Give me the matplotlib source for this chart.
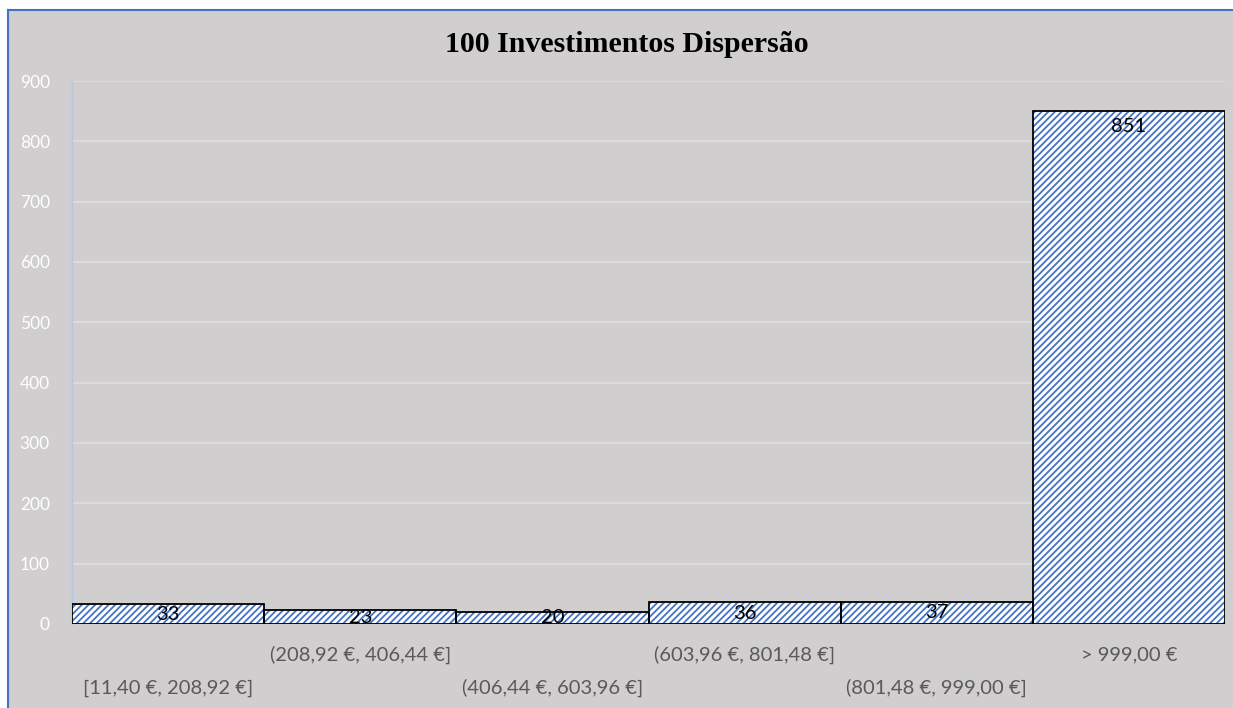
import matplotlib.pyplot as plt
from matplotlib.patches import Rectangle

# histogram bins and counts
bins = ['[11,40 €, 208,92 €]', '(208,92 €, 406,44 €]', '(406,44 €, 603,96 €]',
        '(603,96 €, 801,48 €]', '(801,48 €, 999,00 €]', '> 999,00 €']
counts = [33, 23, 20, 36, 37, 851]
yticks = [0, 100, 200, 300, 400, 500, 600, 700, 800, 900]

bg = '#D0CECE'
plt.rcParams['hatch.linewidth'] = 1.3

fig = plt.figure(figsize=(12.33, 7.08), dpi=100, facecolor='white')

# gray chart area with a blue frame on top and left
fig.patches.append(Rectangle((8 / 1233, 0), 1.2, 1 - 10 / 708, transform=fig.transFigure,
                             facecolor=bg, edgecolor='none', zorder=-2))
fig.lines.append(plt.Line2D([8 / 1233, 8 / 1233], [0, 1 - 10 / 708], transform=fig.transFigure,
                            color='#4472C4', lw=1.5, zorder=-1))
fig.lines.append(plt.Line2D([8 / 1233, 1], [1 - 10 / 708, 1 - 10 / 708], transform=fig.transFigure,
                            color='#4472C4', lw=1.5, zorder=-1))

ax = fig.add_axes([72 / 1233, 1 - 624 / 708, (1225 - 72) / 1233, (624 - 81) / 708])
ax.set_facecolor(bg)

x = list(range(len(counts)))
# blue hatch fill, then black outline on top
ax.bar(x, counts, width=1.0, color='white', edgecolor='#4472C4', linewidth=0,
       hatch='/////', zorder=3)
ax.bar(x, counts, width=1.0, color='none', edgecolor='black', linewidth=1.3, zorder=4)

ax.set_xlim(-0.5, len(counts) - 0.5)
ax.set_ylim(0, 900)
ax.set_yticks(yticks)
ax.grid(axis='y', color='#DCDADA', linewidth=1.5, zorder=0)
ax.tick_params(axis='y', length=0, pad=16, labelcolor='white', labelsize=12.5)
for t in ax.get_yticklabels():
    t.set_family('Lato')
ax.tick_params(axis='x', length=0, labelbottom=False)
for s in ['top', 'right', 'bottom']:
    ax.spines[s].set_visible(False)
ax.spines['left'].set_color('#B4C7E7')
ax.spines['left'].set_linewidth(1)

# value labels inside the bars
for xi, v in zip(x, counts):
    y = v - 27 if v > 60 else v / 2
    ax.text(xi, y, str(v), ha='center', va='center', fontsize=14.5,
            family='Lato', color='black', zorder=5)

# staggered category labels
for xi, lab in zip(x, bins):
    off = -64 if xi % 2 == 0 else -31
    ax.annotate(lab, (xi, 0), xycoords=('data', 'axes fraction'),
                xytext=(0, off), textcoords='offset pixels',
                ha='center', va='center', fontsize=14.5, family='Lato', color='#595959')

fig.text(0.508, 1 - 45 / 708, '100 Investimentos Dispersão', ha='center', va='center',
         fontsize=21.5, fontweight='bold', family='Liberation Serif', color='black')

fig.savefig('out.png', dpi=100, facecolor='white')
